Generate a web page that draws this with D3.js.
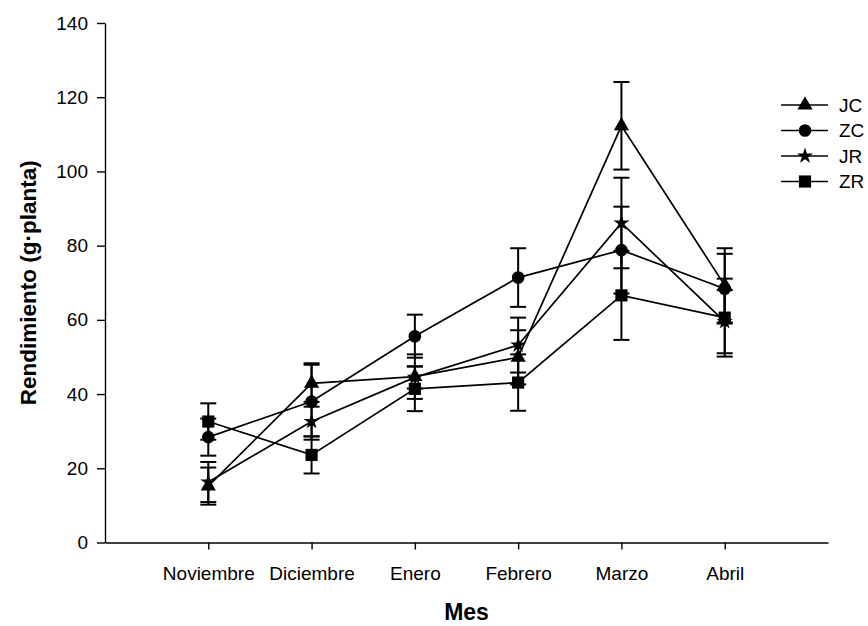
<!DOCTYPE html>
<html>
<head>
<meta charset="utf-8">
<script src="https://cdn.jsdelivr.net/npm/d3@7"></script>
<style>
  body { margin: 0; background: #fff; }
  text { font-family: "Liberation Sans", Arial, sans-serif; fill: #000; }
</style>
</head>
<body>
<script>
var months = ["Noviembre", "Diciembre", "Enero", "Febrero", "Marzo", "Abril"];
var yTicks = [0, 20, 40, 60, 80, 100, 120, 140];

var jc = [15.2, 42.9, 44.7, 49.9, 112.3, 69.3];
var jcErr = [5.0, 5.0, 6.0, 7.3, 11.8, 10.0];
var zc = [28.4, 38.0, 55.6, 71.4, 78.8, 68.4];
var zcErr = [5.0, 10.3, 5.8, 7.9, 11.7, 9.4];
var jr = [16.3, 32.6, 44.5, 53.2, 86.1, 59.5];
var jrErr = [5.4, 4.0, 3.0, 7.4, 12.2, 8.5];
var zr = [32.6, 23.6, 41.4, 43.1, 66.6, 60.6];
var zrErr = [4.9, 5.0, 6.0, 7.6, 12.0, 10.5];

var seriesNames = ["JC", "ZC", "JR", "ZR"];

var width = 868,
    height = 626;

var series = [
  { name: "JC", values: jc, err: jcErr, symbol: d3.symbolTriangle, size: 100 },
  { name: "ZC", values: zc, err: zcErr, symbol: d3.symbolCircle, size: 125 },
  { name: "JR", values: jr, err: jrErr, symbol: d3.symbolStar, size: 80 },
  { name: "ZR", values: zr, err: zrErr, symbol: d3.symbolSquare, size: 148 }
];

var svg = d3.select("body")
            .append("svg")
            .attr("width", width)
            .attr("height", height);

var xScale = d3.scaleLinear()
               .domain([0, 7])
               .range([105, 828]);

var yScale = d3.scaleLinear()
               .domain([0, 140])
               .range([542.5, 23]);

// axes
var xAxis = d3.axisBottom(xScale)
              .tickValues(d3.range(1, months.length + 1))
              .tickFormat(function (d) { return months[d - 1]; })
              .tickSize(7)
              .tickSizeOuter(0)
              .tickPadding(17);

var yAxis = d3.axisLeft(yScale)
              .tickValues(yTicks)
              .tickSize(8)
              .tickSizeOuter(0)
              .tickPadding(9);

var gx = svg.append("g")
    .attr("transform", "translate(0," + yScale(0) + ")")
    .call(xAxis);

var gy = svg.append("g")
    .attr("transform", "translate(" + xScale(0) + ",0)")
    .call(yAxis);

[gx, gy].forEach(function (g) {
  g.selectAll("path, line").attr("stroke", "#000").attr("stroke-width", 1.4);
  g.selectAll("text").style("font-size", "19px").attr("fill", "#000");
});

// axis titles
svg.append("text")
   .attr("x", (xScale(0) + xScale(7)) / 2)
   .attr("y", 620)
   .attr("text-anchor", "middle")
   .style("font-size", "23px")
   .style("font-weight", "bold")
   .text("Mes");

svg.append("text")
   .attr("transform", "translate(36," + (yScale(0) + yScale(140)) / 2 + ") rotate(-90)")
   .attr("text-anchor", "middle")
   .style("font-size", "22.5px")
   .style("font-weight", "bold")
   .text("Rendimiento (g·planta)");

var line = d3.line()
             .x(function (d, i) { return xScale(i + 1); })
             .y(function (d) { return yScale(d); });

series.forEach(function (s) {
  var g = svg.append("g");

  g.append("path")
   .datum(s.values)
   .attr("d", line)
   .attr("fill", "none")
   .attr("stroke", "#000")
   .attr("stroke-width", 1.7);

  var bars = g.selectAll(".bar")
              .data(s.values)
              .enter()
              .append("g");

  bars.append("line")
      .attr("x1", function (d, i) { return xScale(i + 1); })
      .attr("x2", function (d, i) { return xScale(i + 1); })
      .attr("y1", function (d, i) { return yScale(d + s.err[i]); })
      .attr("y2", function (d, i) { return yScale(d - s.err[i]); })
      .attr("stroke", "#000")
      .attr("stroke-width", 2);

  [1, -1].forEach(function (sign) {
    bars.append("line")
        .attr("x1", function (d, i) { return xScale(i + 1) - 8; })
        .attr("x2", function (d, i) { return xScale(i + 1) + 8; })
        .attr("y1", function (d, i) { return yScale(d + sign * s.err[i]); })
        .attr("y2", function (d, i) { return yScale(d + sign * s.err[i]); })
        .attr("stroke", "#000")
        .attr("stroke-width", 2);
  });

  g.selectAll(".pt")
   .data(s.values)
   .enter()
   .append("path")
   .attr("d", d3.symbol().type(s.symbol).size(s.size))
   .attr("transform", function (d, i) {
     return "translate(" + xScale(i + 1) + "," + yScale(d) + ")";
   })
   .attr("fill", "#000");
});

// legend
var legend = svg.append("g")
                .selectAll("g")
                .data(series)
                .enter()
                .append("g")
                .attr("transform", function (d, i) { return "translate(781," + (105 + i * 25.5) + ")"; });

legend.append("line")
      .attr("x1", 0)
      .attr("x2", 47)
      .attr("stroke", "#000")
      .attr("stroke-width", 1.5);

legend.append("path")
      .attr("d", function (d) { return d3.symbol().type(d.symbol).size(d.size)(); })
      .attr("transform", "translate(24,0)")
      .attr("fill", "#000");

legend.append("text")
      .attr("x", 58)
      .attr("dy", "0.36em")
      .style("font-size", "19px")
      .text(function (d, i) { return seriesNames[i]; });
</script>
</body>
</html>
